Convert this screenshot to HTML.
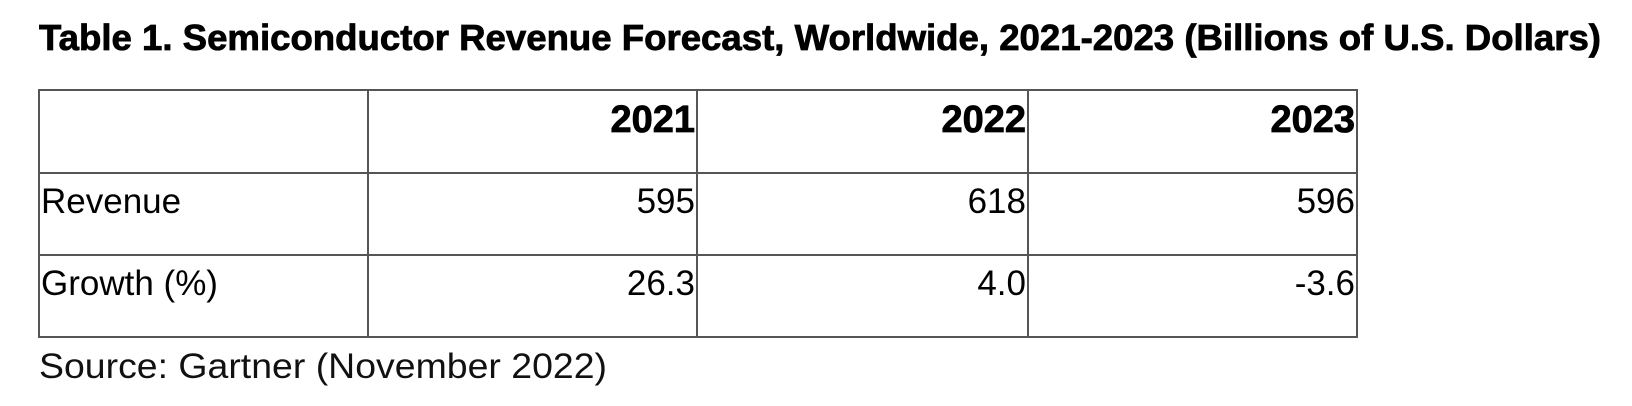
<!DOCTYPE html>
<html><head><meta charset="utf-8"><style>
html,body{margin:0;padding:0;background:#fff;width:1632px;height:406px;overflow:hidden}
svg{display:block;font-family:"Liberation Sans",sans-serif}
</style></head><body>
<svg width="1632" height="406" viewBox="0 0 1632 406">
<text x="39" y="50" font-size="36" font-weight="bold" fill="#000" stroke="#000" stroke-width="0.8" textLength="1562" lengthAdjust="spacingAndGlyphs">Table 1. Semiconductor Revenue Forecast, Worldwide, 2021-2023 (Billions of U.S. Dollars)</text>
<g id="grid" stroke="#555" stroke-width="2" fill="none"></g>
<g id="cells" font-size="35" fill="#000"></g>
<text x="39" y="378" font-size="35" fill="#111" textLength="568" lengthAdjust="spacingAndGlyphs">Source: Gartner (November 2022)</text>
</svg>
<script>
const years = ["2021","2022","2023"];
const rowLabels = ["Revenue","Growth (%)"];
const revenue = ["595","618","596"];
const growth = ["26.3","4.0","-3.6"];
const colX = [39,368,697,1028,1357];
const rowY = [90,173,255,337];
const NS="http://www.w3.org/2000/svg";
const grid=document.getElementById('grid');
const cells=document.getElementById('cells');
const r=document.createElementNS(NS,'rect');
r.setAttribute('x',colX[0]);r.setAttribute('y',rowY[0]);
r.setAttribute('width',colX[4]-colX[0]);r.setAttribute('height',rowY[3]-rowY[0]);


grid.appendChild(r);
for(let i=1;i<4;i++){const l=document.createElementNS(NS,'line');
l.setAttribute('x1',colX[i]);l.setAttribute('x2',colX[i]);l.setAttribute('y1',rowY[0]);l.setAttribute('y2',rowY[3]);


grid.appendChild(l);}
for(let i=1;i<3;i++){const l=document.createElementNS(NS,'line');
l.setAttribute('y1',rowY[i]);l.setAttribute('y2',rowY[i]);l.setAttribute('x1',colX[0]);l.setAttribute('x2',colX[4]);


grid.appendChild(l);}
function txt(s,x,y,anchor,bold){const t=document.createElementNS(NS,'text');
t.setAttribute('x',x);t.setAttribute('y',y);t.setAttribute('text-anchor',anchor);
if(bold){t.setAttribute('font-weight','bold');t.setAttribute('font-size','38');t.setAttribute('stroke','#000');t.setAttribute('stroke-width','0.8');}
t.textContent=s;cells.appendChild(t);return t;}
const base=[132,213,295];
years.forEach((y,i)=>{const t=txt(y,colX[i+2]-2,base[0],'end',true);

});
rowLabels.forEach((lab,i)=>{const t=txt(lab,colX[0]+2,base[i+1],'start',false);

});
[revenue,growth].forEach((arr,ri)=>arr.forEach((v,ci)=>{const t=txt(v,colX[ci+2]-2,base[ri+1],'end',false);

}));
</script>
</body></html>
